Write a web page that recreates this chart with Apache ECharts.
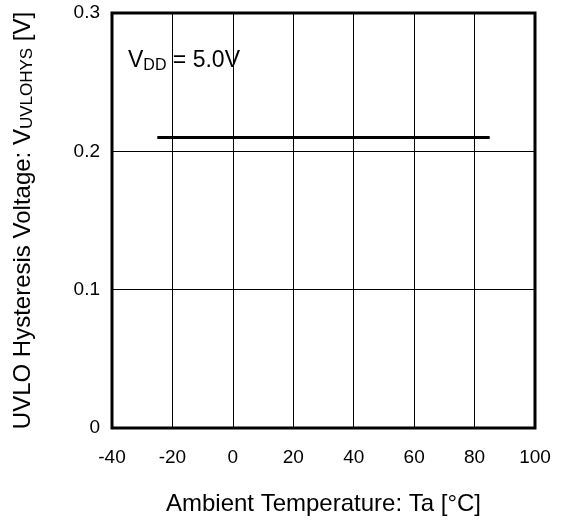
<!DOCTYPE html>
<html><head><meta charset="utf-8">
<script src="https://cdn.jsdelivr.net/npm/echarts@6/dist/echarts.min.js"></script>
<style>html,body{margin:0;padding:0;background:#fff}#c{width:561px;height:521px}</style>
</head><body><div id="c"></div>
<script>
var temps = [-25, 85];
var hysteresis = [0.21, 0.21];
var xTicks = [-40, -20, 0, 20, 40, 60, 80, 100];
var yTicks = [0, 0.1, 0.2, 0.3];

var FONT = '"Liberation Sans", Arial, sans-serif';
var chart = echarts.init(document.getElementById('c'));
chart.setOption({
  animation: false,
  backgroundColor: '#fff',
  textStyle: {fontFamily: FONT, color: '#000'},
  grid: {left: 112, right: 26, top: 13, bottom: 92, show: true, borderColor: '#000', borderWidth: 3, backgroundColor: 'transparent'},
  title: {
    left: 123, top: 42, padding: 5,
    text: '{n|V}{s|DD}{n| = 5.0V}',
    textStyle: {rich: {
      n: {fontSize: 23, fontWeight: 'normal', fontFamily: FONT, color: '#000', lineHeight: 28},
      s: {fontSize: 16, fontWeight: 'normal', fontFamily: FONT, color: '#000', lineHeight: 28, padding: [9, 0, 0, 0]}
    }}
  },
  xAxis: {
    type: 'value', min: xTicks[0], max: xTicks[xTicks.length - 1], interval: 20,
    axisLine: {show: false}, axisTick: {show: false},
    splitLine: {show: true, lineStyle: {color: '#000', width: 1}},
    axisLabel: {fontSize: 19, color: '#000', fontFamily: FONT, margin: 20},
    name: 'Ambient Temperature: Ta [°C]', nameLocation: 'middle', nameGap: 76,
    nameTextStyle: {fontSize: 24, color: '#000', fontFamily: FONT, verticalAlign: 'middle'}
  },
  yAxis: {
    type: 'value', min: yTicks[0], max: yTicks[yTicks.length - 1], interval: 0.1,
    axisLine: {show: false}, axisTick: {show: false},
    splitLine: {show: true, lineStyle: {color: '#000', width: 1}},
    axisLabel: {fontSize: 19, color: '#000', fontFamily: FONT, margin: 12, formatter: function (v) { return v === 0 ? '0' : v.toFixed(1); }},
    name: '{n|UVLO Hysteresis Voltage: V}{s|UVLOHYS}{n| [V]}', nameLocation: 'middle', nameGap: 89, nameRotate: 90,
    nameTextStyle: {verticalAlign: 'middle', rich: {
      n: {fontSize: 24, color: '#000', fontFamily: FONT, lineHeight: 28},
      s: {fontSize: 17, color: '#000', fontFamily: FONT, lineHeight: 28, padding: [9, 0, 0, 0]}
    }}
  },
  series: [{
    type: 'line', symbol: 'none',
    data: temps.map(function (t, i) { return [t, hysteresis[i]]; }),
    lineStyle: {color: '#000', width: 3}
  }]
});
</script></body></html>
